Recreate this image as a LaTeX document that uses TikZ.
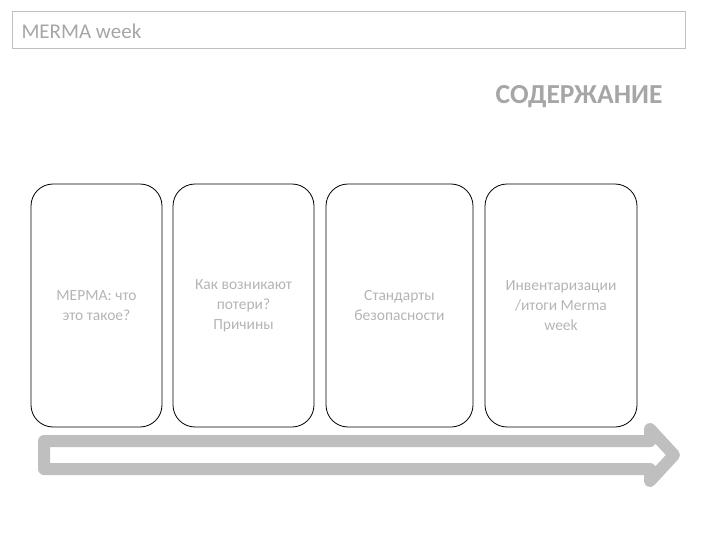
\documentclass[tikz,border=0pt]{standalone}
\usepackage{fontspec}
\setmainfont{Carlito}
\definecolor{grisclair}{HTML}{BFBFBF}
\definecolor{gristexte}{HTML}{A6A6A6}
\definecolor{griscarte}{HTML}{B4B4B4}
\begin{document}
\begin{tikzpicture}[x=1pt,y=-1pt]
	\tikzstyle{fleche}=[draw=grisclair,line width=12pt,line join=round]
	\tikzset{carte/.style={draw,rounded corners=22pt,line width=0.8pt,minimum height=243pt,inner sep=0pt,align=center,text=griscarte,font=\fontsize{15.5}{20}\selectfont},carte/.default={}}
	\useasboundingbox (0,0) rectangle (720,540);
	\node[draw=grisclair,line width=0.8pt,anchor=north west,minimum width=673pt,minimum height=37pt,inner sep=0pt] (cadre) at (12,11) {};
	\node[anchor=west,text=gristexte,font=\fontsize{21}{22}\selectfont] (titre) at (18,31) {MERMA week};
	\node[anchor=east,text=gristexte,font=\fontsize{27.5}{30}\bfseries] (sommaire) at (666,97) {СОДЕРЖАНИЕ};
	\node[carte,minimum width=131pt] (c1) at (96.5,305.5) {МЕРМА: что\\это такое?};
	\node[carte,minimum width=141pt] (c2) at (243.5,305.5) {Как возникают\\потери?\\Причины};
	\node[carte,minimum width=147pt] (c3) at (399.5,305.5) {Стандарты\\безопасности};
	\node[carte,minimum width=152pt] (c4) at (561,305.5) {Инвентаризации\\/итоги Merma\\week};
	%\draw (c1) -- (c4);
	\draw[fleche] (44,441) -- (650,441) -- (650,429) -- (674,455) -- (650,481) -- (650,469) -- (44,469) -- cycle;
\end{tikzpicture}
\end{document}
